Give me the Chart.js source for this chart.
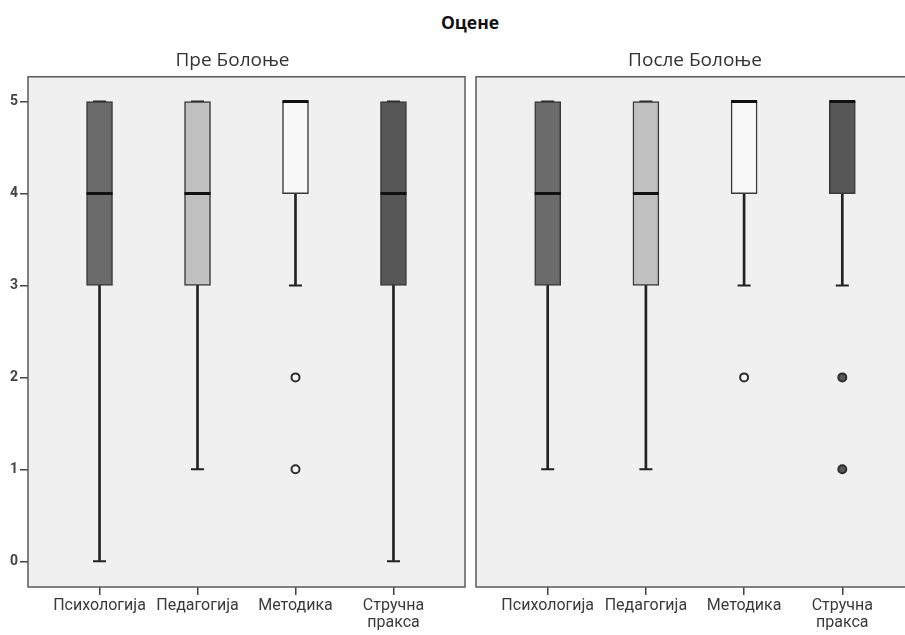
<!DOCTYPE html>
<html>
<head>
<meta charset="utf-8">
<script src="https://cdn.jsdelivr.net/npm/chart.js@4"></script>
<style>
  body { margin: 0; background: #fff; overflow: hidden; width: 905px; height: 635px; position: relative; }
  #mainTitle { position: absolute; left: 0; top: 10px; width: 940px; text-align: center;
    font: bold 17.5px "Open Sans", Roboto, sans-serif; color: #111; }
  #left { position: absolute; left: 0; top: 0; }
  #right { position: absolute; left: 467px; top: 0; }
</style>
</head>
<body>
<div id="mainTitle">Оцене</div>
<canvas id="left" width="467" height="635"></canvas>
<canvas id="right" width="450" height="635"></canvas>
<script>
const categories = ['Психологија', 'Педагогија', 'Методика', ['Стручна', 'пракса']];
const panelTitles = ['Пре Болоње', 'После Болоње'];
const yTicks = [0, 1, 2, 3, 4, 5];
const boxColors = ['#6b6b6b', '#c0c0c0', '#f8f8f8', '#575757'];

// Пре Болоње
const preLow = [0, 1, 3, 0];
const preQ1 = [3, 3, 4, 3];
const preMedian = [4, 4, 5, 4];
const preQ3 = [5, 5, 5, 5];
const preHigh = [5, 5, 5, 5];
const preOutliers = [[], [], [2, 1], []];

// После Болоње
const postLow = [1, 1, 3, 3];
const postQ1 = [3, 3, 4, 4];
const postMedian = [4, 4, 5, 5];
const postQ3 = [5, 5, 5, 5];
const postHigh = [5, 5, 5, 5];
const postOutliers = [[], [], [2], [2, 1]];

const panelFrame = {
  id: 'panelFrame',
  beforeDraw(chart) {
    const a = chart.chartArea, ctx = chart.ctx;
    ctx.save();
    ctx.fillStyle = '#f0f0f0';
    ctx.fillRect(a.left, a.top, a.right - a.left, a.bottom - a.top);
    ctx.restore();
  },
  afterDraw(chart) {
    const a = chart.chartArea, ctx = chart.ctx;
    ctx.save();
    ctx.strokeStyle = '#5a5a5a';
    ctx.lineWidth = 1.5;
    ctx.strokeRect(a.left, a.top, a.right - a.left, a.bottom - a.top);
    ctx.restore();
  }
};

function makePanel(canvasId, title, low, q1, median, q3, high, outliers, showY, padLeft, padRight) {
  const idx = categories.map((c, i) => i);
  const outlierPts = [];
  const outlierFill = [];
  outliers.forEach((list, i) => list.forEach(v => { outlierPts.push({ x: i, y: v }); outlierFill.push(boxColors[i]); }));

  return new Chart(document.getElementById(canvasId), {
    type: 'bar',
    data: {
      datasets: [
        {
          type: 'scatter',
          data: outlierPts,
          pointStyle: 'circle',
          pointRadius: 4,
          pointBackgroundColor: outlierFill,
          pointBorderColor: '#2e2e2e',
          pointBorderWidth: 2,
          order: 0
        },
        {
          type: 'scatter',
          data: idx.map(i => ({ x: i, y: median[i] })),
          pointStyle: 'line',
          pointRadius: 13,
          pointBorderColor: '#111',
          pointBorderWidth: 3,
          order: 1
        },
        {
          type: 'bar',
          data: idx.map(i => ({ x: i, y: [q1[i], q3[i]] })),
          backgroundColor: boxColors,
          borderColor: '#3a3a3a',
          borderWidth: 1.5,
          borderSkipped: false,
          barThickness: 26,
          grouped: false,
          order: 2
        },
        {
          type: 'scatter',
          data: idx.map(i => ({ x: i, y: low[i] })).concat(idx.map(i => ({ x: i, y: high[i] }))),
          pointStyle: 'line',
          pointRadius: 6.5,
          pointBorderColor: '#222',
          pointBorderWidth: 2,
          order: 3
        },
        {
          type: 'bar',
          data: idx.map(i => ({ x: i, y: [low[i], high[i]] })),
          backgroundColor: '#222',
          borderWidth: 0,
          barThickness: 2,
          grouped: false,
          order: 4
        }
      ]
    },
    options: {
      responsive: false,
      animation: false,
      layout: { autoPadding: false, padding: { top: 49, bottom: 0, left: padLeft, right: padRight } },
      plugins: {
        legend: { display: false },
        tooltip: { enabled: false },
        title: {
          display: true,
          text: title,
          color: '#333',
          font: { family: 'Open Sans, Roboto, sans-serif', size: 19, weight: 'normal' },
          padding: { top: 0, bottom: 5 }
        }
      },
      scales: {
        x: {
          type: 'linear',
          min: -0.73,
          max: 3.73,
          offset: false,
          border: { display: false },
          grid: { offset: false, drawOnChartArea: false, drawTicks: true, tickLength: 8, color: '#444', lineWidth: 1.5 },
          ticks: {
            stepSize: 1,
            includeBounds: false,
            autoSkip: false,
            maxRotation: 0,
            padding: 2,
            color: '#3a3a3a',
            font: { family: 'Roboto, sans-serif', size: 16, lineHeight: 1.08 },
            callback: v => categories[v]
          },
          afterFit: s => { s.height = 48; }
        },
        y: {
          display: showY,
          min: -0.28,
          max: 5.27,
          border: { display: false },
          grid: { drawOnChartArea: false, drawTicks: true, tickLength: 8, color: '#444', lineWidth: 1.5 },
          ticks: {
            stepSize: 1,
            includeBounds: false,
            padding: 2,
            color: '#444',
            font: { family: 'Roboto, sans-serif', size: 14, weight: 'bold' },
            callback: v => yTicks.includes(v) ? String(v) : ''
          },
          afterFit: s => { s.width = showY ? 28 : 0; }
        }
      }
    },
    plugins: [panelFrame]
  });
}

makePanel('left', panelTitles[0], preLow, preQ1, preMedian, preQ3, preHigh, preOutliers, true, 0, 2);
makePanel('right', panelTitles[1], postLow, postQ1, postMedian, postQ3, postHigh, postOutliers, false, 9, 3);
</script>
</body>
</html>
